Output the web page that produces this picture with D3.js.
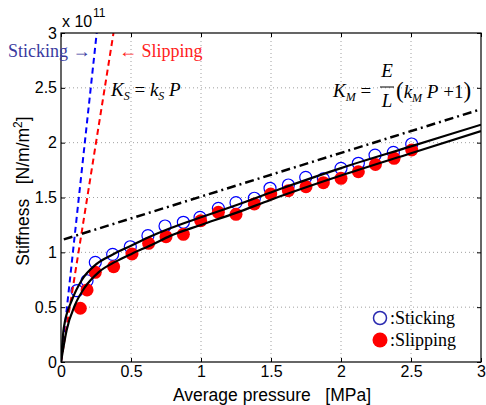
<!DOCTYPE html>
<html>
<head>
<meta charset="utf-8">
<script src="https://cdn.jsdelivr.net/npm/d3@7"></script>
<style>
  body { margin: 0; background: #fff; }
  svg { display: block; }
  .tick text { font-family: "Liberation Sans", Arial, sans-serif; font-size: 16px; fill: #000; }
  .pre { white-space: pre; }
</style>
</head>
<body>
<svg width="486" height="405"></svg>
<script>
// measured points, pressure in MPa, stiffness in 1e11 N/m/m^2
var stickP = [0.114, 0.186, 0.245, 0.369, 0.495, 0.621, 0.743, 0.874, 0.993, 1.124, 1.25, 1.381, 1.493, 1.624, 1.748, 1.874, 2.0, 2.124, 2.243, 2.374, 2.505];
var stickK = [0.65, 0.741, 0.909, 0.982, 1.051, 1.152, 1.24, 1.274, 1.319, 1.401, 1.453, 1.493, 1.584, 1.614, 1.684, 1.67, 1.766, 1.812, 1.887, 1.912, 1.988];
var slipP = [0.138, 0.186, 0.245, 0.376, 0.507, 0.626, 0.75, 0.874, 0.998, 1.124, 1.25, 1.381, 1.498, 1.624, 1.75, 1.874, 2.0, 2.124, 2.246, 2.379, 2.505];
var slipK = [0.49, 0.657, 0.818, 0.869, 0.985, 1.082, 1.143, 1.164, 1.288, 1.365, 1.347, 1.441, 1.532, 1.562, 1.598, 1.635, 1.675, 1.735, 1.801, 1.857, 1.933];

// fitted curves
var fitStickP = [0, 0.02, 0.08, 0.15, 0.25, 0.37, 0.5, 0.63, 0.78, 1.0, 1.25, 1.56, 2.0, 2.5, 3.0];
var fitStickK = [0, 0.31, 0.57, 0.75, 0.89, 0.98, 1.06, 1.14, 1.22, 1.32, 1.43, 1.575, 1.768, 1.966, 2.164];
var fitSlipP = [0, 0.04, 0.10, 0.17, 0.27, 0.39, 0.51, 0.65, 0.78, 1.0, 1.25, 1.5, 2.0, 2.5, 3.0];
var fitSlipK = [0, 0.29, 0.52, 0.68, 0.82, 0.915, 0.99, 1.07, 1.15, 1.25, 1.36, 1.48, 1.70, 1.904, 2.106];

// K_S = k_S P lines and K_M asymptote
var ksStickP = [0, 0.255], ksStickK = [0, 3];
var ksSlipP = [0, 0.375], ksSlipK = [0, 3];
var kmP = [0.02, 3], kmK = [1.118, 2.305];

var xTicks = [0, 0.5, 1, 1.5, 2, 2.5, 3];
var yTicks = [0, 0.5, 1, 1.5, 2, 2.5, 3];

var serif = "'Liberation Serif', 'Times New Roman', Times, 'DejaVu Serif', serif";
var sans = "'Liberation Sans', Arial, sans-serif";

var margin = {top: 33, right: 5, bottom: 43, left: 61},
    width = 486 - margin.left - margin.right,
    height = 405 - margin.top - margin.bottom;

var svg = d3.select("svg");
var g = svg.append("g")
    .attr("transform", "translate(" + margin.left + "," + margin.top + ")");

var x = d3.scaleLinear().domain([0, 3]).range([0, width]);
var y = d3.scaleLinear().domain([0, 3]).range([height, 0]);

function pts(xs, ys) { return xs.map((v, i) => [v, ys[i]]); }

// grid
g.append("g").selectAll("line").data(xTicks.slice(1, -1)).enter().append("line")
    .attr("x1", d => x(d)).attr("x2", d => x(d))
    .attr("y1", 0).attr("y2", height)
    .attr("stroke", "#888").attr("stroke-width", 0.8).attr("stroke-dasharray", "1,3");
g.append("g").selectAll("line").data(yTicks.slice(1, -1)).enter().append("line")
    .attr("y1", d => y(d)).attr("y2", d => y(d))
    .attr("x1", 0).attr("x2", width)
    .attr("stroke", "#888").attr("stroke-width", 0.8).attr("stroke-dasharray", "1,3");

g.append("defs").append("clipPath").attr("id", "clip")
  .append("rect").attr("width", width).attr("height", height);

var plot = g.append("g").attr("clip-path", "url(#clip)");

var line = d3.line().x(d => x(d[0])).y(d => y(d[1]));
var smooth = d3.line().x(d => x(d[0])).y(d => y(d[1])).curve(d3.curveMonotoneX);

// markers
plot.selectAll("circle.stick").data(pts(stickP, stickK)).enter().append("circle")
    .attr("class", "stick")
    .attr("cx", d => x(d[0])).attr("cy", d => y(d[1])).attr("r", 6)
    .attr("fill", "none").attr("stroke", "#0000ff").attr("stroke-width", 1.2);
plot.selectAll("circle.slip").data(pts(slipP, slipK)).enter().append("circle")
    .attr("class", "slip")
    .attr("cx", d => x(d[0])).attr("cy", d => y(d[1])).attr("r", 6.5)
    .attr("fill", "#ff0000");

// dashed K_S lines
plot.append("path").datum(pts(ksStickP, ksStickK)).attr("d", line)
    .attr("fill", "none").attr("stroke", "#0000ff").attr("stroke-width", 2).attr("stroke-dasharray", "6,4");
plot.append("path").datum(pts(ksSlipP, ksSlipK)).attr("d", line)
    .attr("fill", "none").attr("stroke", "#ff0000").attr("stroke-width", 2).attr("stroke-dasharray", "6,4");

// fits
plot.append("path").datum(pts(fitStickP, fitStickK)).attr("d", smooth)
    .attr("fill", "none").attr("stroke", "#000").attr("stroke-width", 2.2);
plot.append("path").datum(pts(fitSlipP, fitSlipK)).attr("d", smooth)
    .attr("fill", "none").attr("stroke", "#000").attr("stroke-width", 2.2);

// K_M line
plot.append("path").datum(pts(kmP, kmK)).attr("d", line)
    .attr("fill", "none").attr("stroke", "#000").attr("stroke-width", 2.5).attr("stroke-dasharray", "9,4,2,4");

// axes, ticks inward
g.append("g").attr("class", "x axis")
    .attr("transform", "translate(0," + height + ")")
    .call(d3.axisBottom(x).tickValues(xTicks).tickFormat(d3.format("")).tickSizeInner(-4).tickSizeOuter(0).tickPadding(4));
g.append("g").attr("class", "y axis")
    .call(d3.axisLeft(y).tickValues(yTicks).tickFormat(d3.format("")).tickSizeInner(-4).tickSizeOuter(0).tickPadding(4));
g.append("g")
    .call(d3.axisTop(x).tickValues(xTicks).tickFormat("").tickSizeInner(-4).tickSizeOuter(0));
g.append("g")
    .attr("transform", "translate(" + width + ",0)")
    .call(d3.axisRight(y).tickValues(yTicks).tickFormat("").tickSizeInner(-4).tickSizeOuter(0));
g.selectAll(".domain").remove();
g.selectAll(".tick line").attr("stroke", "#000");
g.append("rect").attr("width", width).attr("height", height)
    .attr("fill", "none").attr("stroke", "#000").attr("stroke-width", 1.2);

// exponent
svg.append("text").attr("x", 62).attr("y", 27)
    .attr("font-family", sans).attr("font-size", 16)
    .text("x 10");
svg.append("text").attr("x", 93).attr("y", 17)
    .attr("font-family", sans).attr("font-size", 12)
    .text("11");

// axis titles
svg.append("text").attr("class", "pre").attr("x", 272).attr("y", 401).attr("text-anchor", "middle")
    .attr("font-family", sans).attr("font-size", 17.5)
    .text("Average pressure   [MPa]");
var yl = svg.append("text").attr("class", "pre").attr("transform", "translate(29,191) rotate(-90)").attr("text-anchor", "middle")
    .attr("font-family", sans).attr("font-size", 17.5);
yl.append("tspan").text("Stiffness   [N/m/m");
yl.append("tspan").attr("dy", -7).attr("font-size", 12).text("2");
yl.append("tspan").attr("dy", 7).text("]");

// annotations
svg.append("text").attr("x", 8).attr("y", 57).attr("font-family", serif)
    .attr("font-size", 18).attr("fill", "#3a3aa0").text("Sticking \u2192");
svg.append("text").attr("x", 119).attr("y", 57).attr("font-family", serif)
    .attr("font-size", 18).attr("fill", "#ff2020").text("\u2190 Slipping");

var ks = svg.append("text").attr("class", "pre").attr("x", 111).attr("y", 96)
    .attr("font-family", serif).attr("font-size", 19);
ks.append("tspan").attr("font-style", "italic").text("K");
ks.append("tspan").attr("dy", 4).attr("font-style", "italic").attr("font-size", 12).text("S");
ks.append("tspan").attr("dy", -4).text(" = ");
ks.append("tspan").attr("font-style", "italic").text("k");
ks.append("tspan").attr("dy", 4).attr("font-style", "italic").attr("font-size", 12).text("S");
ks.append("tspan").attr("dy", -4).attr("font-style", "italic").text(" P");

var km = svg.append("g").attr("font-family", serif).attr("font-size", 19);
var t1 = km.append("text").attr("class", "pre").attr("x", 333).attr("y", 97);
t1.append("tspan").attr("font-style", "italic").text("K");
t1.append("tspan").attr("dy", 4).attr("font-style", "italic").attr("font-size", 12).text("M");
t1.append("tspan").attr("dy", -4).text(" =");
km.append("text").attr("x", 387).attr("y", 77).attr("text-anchor", "middle").attr("font-style", "italic").text("E");
km.append("line").attr("x1", 380).attr("x2", 394).attr("y1", 87).attr("y2", 87).attr("stroke", "#000").attr("stroke-width", 1);
km.append("text").attr("x", 387).attr("y", 107).attr("text-anchor", "middle").attr("font-style", "italic").text("L");
var t2 = km.append("text").attr("class", "pre").attr("x", 396).attr("y", 98);
t2.append("tspan").attr("font-size", 23).text("(");
t2.append("tspan").attr("font-style", "italic").text("k");
t2.append("tspan").attr("dy", 4).attr("font-style", "italic").attr("font-size", 12).text("M");
t2.append("tspan").attr("dy", -4).attr("font-style", "italic").text(" P");
t2.append("tspan").text(" +1");
t2.append("tspan").attr("font-size", 23).text(")");

// legend
var leg = svg.append("g").attr("font-family", serif).attr("transform", "translate(380,318)");
leg.append("circle").attr("r", 6.5).attr("fill", "none").attr("stroke", "#2a2ab0").attr("stroke-width", 1.5);
leg.append("text").attr("x", 10).attr("y", 6).attr("font-size", 18).text(":Sticking");
leg.append("circle").attr("cy", 22).attr("r", 7.5).attr("fill", "#ff0000");
leg.append("text").attr("x", 10).attr("y", 28).attr("font-size", 18).text(":Slipping");
</script>
</body>
</html>
